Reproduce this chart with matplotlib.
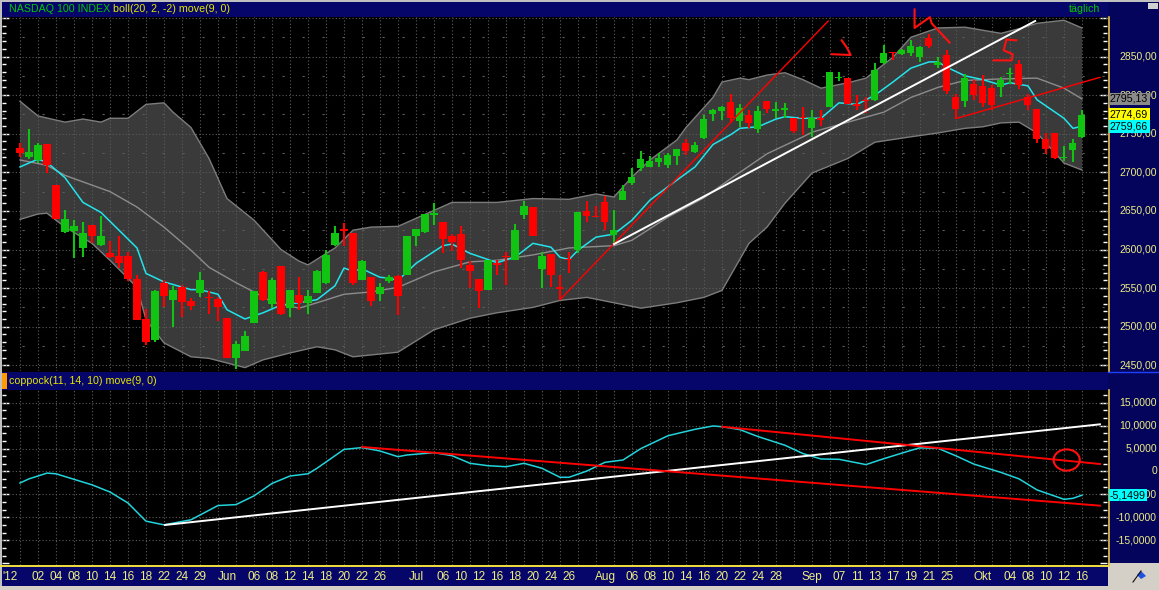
import matplotlib
matplotlib.use("Agg")
import matplotlib.pyplot as plt
import matplotlib.transforms as mtransforms
from matplotlib.patches import Rectangle, Ellipse, Polygon
from matplotlib.ticker import MultipleLocator
import numpy as np
import pandas as pd

plt.rcParams['font.family'] = ['Liberation Sans', 'DejaVu Sans']

# ---- trading days shown (30 Apr 2012 .. 16 Oct 2012) ----
holidays = ['2012-05-28', '2012-07-04', '2012-09-03']
days = pd.bdate_range('2012-04-30', '2012-10-16').drop(pd.to_datetime(holidays))

# ---- NASDAQ 100 daily candles ----
opens = [2731, 2720, 2716, 2737, 2683, 2623, 2624, 2602, 2632, 2606,
         2595, 2591, 2591, 2562, 2510, 2483, 2556, 2535, 2552, 2533,
         2544, 2539, 2536, 2511, 2460, 2468, 2505, 2571, 2529, 2579,
         2524, 2541, 2531, 2544, 2556, 2606, 2626, 2621, 2561, 2564,
         2542, 2559, 2566, 2567, 2617, 2623, 2645, 2636, 2617, 2620,
         2580, 2562, 2547, 2582, 2592, 2587, 2645, 2655, 2575, 2594,
         2552, 2588, 2600, 2650, 2644, 2661, 2619, 2664, 2686, 2706,
         2707, 2713, 2710, 2721, 2738, 2726, 2744, 2776, 2779, 2791,
         2766, 2774, 2756, 2793, 2780, 2781, 2771, 2772, 2757, 2770,
         2785, 2822, 2822, 2788, 2794, 2794, 2841, 2856, 2853, 2854,
         2850, 2874, 2839, 2852, 2798, 2792, 2815, 2812, 2809, 2810,
         2827, 2840, 2798, 2782, 2743, 2751, 2718, 2729, 2746]
highs = [2738, 2756, 2738, 2737, 2683, 2651, 2638, 2635, 2632, 2643,
         2611, 2618, 2597, 2567, 2523, 2548, 2561, 2553, 2554, 2537,
         2571, 2546, 2539, 2511, 2482, 2494, 2546, 2572, 2563, 2579,
         2547, 2564, 2547, 2574, 2600, 2631, 2634, 2621, 2587, 2564,
         2557, 2567, 2567, 2617, 2626, 2646, 2660, 2636, 2620, 2631,
         2585, 2562, 2587, 2586, 2597, 2633, 2663, 2655, 2597, 2594,
         2567, 2597, 2648, 2663, 2657, 2669, 2651, 2684, 2705, 2728,
         2721, 2725, 2725, 2730, 2743, 2739, 2774, 2782, 2786, 2802,
         2789, 2781, 2786, 2793, 2791, 2790, 2771, 2784, 2781, 2781,
         2830, 2830, 2822, 2800, 2798, 2841, 2865, 2856, 2860, 2871,
         2864, 2879, 2849, 2858, 2802, 2827, 2820, 2826, 2813, 2823,
         2835, 2846, 2802, 2782, 2751, 2751, 2734, 2743, 2781]
lows = [2720, 2717, 2712, 2699, 2639, 2622, 2589, 2590, 2608, 2605,
        2589, 2576, 2559, 2509, 2476, 2480, 2525, 2500, 2513, 2521,
        2538, 2516, 2508, 2460, 2445, 2468, 2505, 2533, 2524, 2515,
        2513, 2522, 2516, 2543, 2555, 2605, 2604, 2554, 2560, 2527,
        2533, 2557, 2515, 2567, 2605, 2622, 2632, 2596, 2598, 2576,
        2550, 2524, 2547, 2567, 2554, 2586, 2640, 2618, 2550, 2552,
        2535, 2569, 2595, 2635, 2642, 2625, 2608, 2664, 2684, 2702,
        2707, 2707, 2705, 2710, 2722, 2725, 2743, 2767, 2768, 2764,
        2759, 2757, 2751, 2777, 2771, 2770, 2751, 2748, 2746, 2760,
        2785, 2818, 2789, 2781, 2777, 2793, 2840, 2846, 2852, 2851,
        2843, 2861, 2835, 2802, 2769, 2785, 2794, 2785, 2781, 2798,
        2815, 2808, 2781, 2738, 2724, 2717, 2715, 2714, 2744]
closes = [2725, 2726, 2735, 2709, 2639, 2640, 2631, 2621, 2617, 2617,
          2590, 2582, 2562, 2509, 2480, 2546, 2540, 2548, 2532, 2527,
          2560, 2537, 2525, 2460, 2478, 2488, 2546, 2535, 2561, 2516,
          2547, 2531, 2540, 2572, 2593, 2621, 2624, 2556, 2585, 2533,
          2551, 2565, 2540, 2617, 2626, 2646, 2647, 2613, 2610, 2587,
          2572, 2546, 2587, 2580, 2590, 2625, 2657, 2618, 2591, 2567,
          2549, 2586, 2648, 2643, 2642, 2636, 2625, 2676, 2694, 2717,
          2715, 2719, 2722, 2730, 2728, 2736, 2769, 2781, 2785, 2770,
          2783, 2764, 2779, 2782, 2782, 2783, 2753, 2770, 2771, 2768,
          2830, 2824, 2789, 2786, 2792, 2832, 2855, 2854, 2858, 2863,
          2862, 2863, 2843, 2805, 2782, 2822, 2800, 2790, 2787, 2820,
          2829, 2813, 2787, 2743, 2730, 2718, 2720, 2738, 2774.69]

# Bollinger band (20, 2) and 9-day average (day index, price)
upper_days = [0, 2, 5, 7, 9, 10, 12, 14, 16, 17, 19, 21, 23, 26, 29, 31, 32, 35, 37, 39,
              42, 48, 53, 57, 61, 64, 66, 68, 70, 73, 74, 77, 78, 80, 81, 83, 85, 87, 89, 92,
              94, 97, 99, 102, 105, 109, 111, 113, 116, 118]
upper_vals = [2792, 2773, 2765, 2769, 2765, 2770, 2770, 2788, 2790, 2778, 2758, 2718, 2666, 2638, 2600, 2585, 2580, 2602, 2625, 2629,
              2630, 2661, 2661, 2666, 2665, 2672, 2668, 2694, 2716, 2742, 2758, 2797, 2817, 2822, 2820, 2826, 2829, 2820, 2809, 2816,
              2822, 2849, 2875, 2887, 2888, 2880, 2886, 2893, 2897, 2887]
lower_days = [0, 2, 3, 5, 8, 10, 13, 14, 16, 19, 21, 23, 25, 27, 30, 33, 35, 37, 42, 46,
              50, 53, 57, 60, 63, 66, 69, 73, 76, 78, 81, 83, 85, 87, 88, 92, 95, 99, 102, 105,
              107, 109, 111, 113, 115, 116, 118]
lower_vals = [2639, 2646, 2647, 2629, 2608, 2586, 2551, 2509, 2479, 2461, 2459, 2453, 2447, 2457, 2466, 2474, 2470, 2461, 2467, 2496,
              2511, 2518, 2525, 2534, 2538, 2531, 2524, 2531, 2538, 2547, 2608, 2629, 2660, 2686, 2699, 2718, 2739, 2746, 2751, 2757,
              2759, 2764, 2765, 2751, 2725, 2712, 2703]
mid_days = [0, 3, 5, 10, 13, 16, 19, 21, 24, 26, 28, 31, 33, 36, 39, 42, 46, 50, 53, 57,
            61, 66, 68, 72, 76, 79, 83, 87, 88, 92, 96, 99, 102, 105, 109, 113, 116, 118]
mid_vals = [2716, 2709, 2696, 2675, 2655, 2629, 2599, 2577, 2557, 2545, 2532, 2524, 2531, 2542, 2545, 2551, 2571, 2584, 2586, 2593,
            2602, 2605, 2612, 2642, 2667, 2692, 2724, 2746, 2752, 2765, 2778, 2797, 2810, 2819, 2821, 2822, 2809, 2795.13]
ma_days = [0, 2, 3, 5, 7, 9, 11, 13, 14, 16, 19, 20, 22, 23, 25, 27, 29, 31, 33, 35,
           36, 37, 38, 40, 41, 42, 44, 47, 48, 50, 52, 53, 55, 57, 59, 60, 61, 62, 64, 66,
           68, 70, 73, 75, 77, 79, 80, 82, 84, 85, 87, 89, 91, 93, 95, 97, 99, 101, 102, 103,
           105, 107, 109, 110, 112, 113, 116, 117, 118]
ma_vals = [2707, 2717, 2713, 2693, 2661, 2648, 2625, 2602, 2569, 2558, 2548, 2548, 2542, 2522, 2510, 2518, 2528, 2531, 2535, 2553,
           2576, 2572, 2575, 2564, 2563, 2560, 2582, 2605, 2607, 2595, 2587, 2583, 2590, 2608, 2603, 2590, 2587, 2599, 2616, 2620,
           2638, 2664, 2690, 2707, 2736, 2749, 2757, 2759, 2769, 2772, 2770, 2770, 2790, 2788, 2800, 2817, 2835, 2843, 2843, 2836,
           2825, 2820, 2813, 2816, 2812, 2794, 2770, 2757, 2759.66]

# Coppock (11, 14, 10)
cop_days = [0, 1, 3, 4, 6, 8, 10, 12, 14, 16, 19, 22, 24, 26, 28, 30, 32, 33, 36, 38,
            40, 42, 43, 46, 48, 50, 52, 54, 56, 58, 60, 61, 63, 65, 67, 69, 72, 75, 77, 78,
            80, 82, 85, 87, 89, 91, 94, 96, 99, 100, 102, 104, 106, 109, 111, 113, 116, 117, 118]
cop_vals = [-2.5, -1.6, -0.35, -0.5, -1.7, -2.9, -4.46, -6.85, -10.8, -11.6, -10.5, -7.4, -7.2, -5.3, -2.6, -0.98, -0.5, 0.7, 4.8, 5.2,
            4.46, 3.22, 3.59, 4.09, 3.44, 1.78, 1.26, 1.04, 1.78, 0.7, -1.26, -1.26, 0.11, 2.0, 2.5, 5.0, 7.78, 9.17, 9.9, 9.74,
            9.1, 7.6, 5.7, 3.9, 2.72, 2.65, 1.5, 2.8, 4.6, 5.15, 5.04, 3.4, 1.6, -0.2, -1.6, -4.0, -6.05, -5.83, -5.1499]

# hand-drawn trend lines and marks (day index, value)
red_trend_days, red_trend_prices = [60, 89.8], [2535, 2896]
white_trend_days, white_trend_prices = [66, 112.8], [2607, 2896]
wedge_days, wedge_prices = [104.1, 120], [2770, 2823]
mark_k_days, mark_k_prices = [99.4, 99.4, 101.1, 101.3, 103.3], [2911, 2887, 2901, 2893, 2868]
mark_paren_days, mark_paren_prices = [91.3, 91.9, 92.3, 90.2], [2871, 2861, 2852, 2853]
mark_s_days, mark_s_prices = [110.7, 109.6, 109.3, 110.3, 110.2, 108.2], [2871, 2872, 2858, 2853, 2845, 2845]
cop_white_days, cop_white_vals = [16.1, 120], [-11.63, 10.26]
cop_red1_days, cop_red1_vals = [78, 120], [9.74, 1.63]
cop_red2_days, cop_red2_vals = [38, 120], [5.33, -7.43]
circle_day, circle_val = 116.3, 2.5

# date axis labels
tick_dates = ['2012-05-02', '2012-05-04', '2012-05-08', '2012-05-10', '2012-05-14', '2012-05-16',
              '2012-05-18', '2012-05-22', '2012-05-24', '2012-05-29', '2012-06-01', '2012-06-06',
              '2012-06-08', '2012-06-12', '2012-06-14', '2012-06-18', '2012-06-20', '2012-06-22',
              '2012-06-26', '2012-07-02', '2012-07-06', '2012-07-10', '2012-07-12', '2012-07-16',
              '2012-07-18', '2012-07-20', '2012-07-24', '2012-07-26', '2012-08-01', '2012-08-06',
              '2012-08-08', '2012-08-10', '2012-08-14', '2012-08-16', '2012-08-20', '2012-08-22',
              '2012-08-24', '2012-08-28', '2012-09-04', '2012-09-07', '2012-09-11', '2012-09-13',
              '2012-09-17', '2012-09-19', '2012-09-21', '2012-09-25', '2012-10-01', '2012-10-04',
              '2012-10-08', '2012-10-10', '2012-10-12', '2012-10-16']
tick_labels = ['02', '04', '08', '10', '14', '16', '18', '22', '24', '29', 'Jun', '06', '08', '12', '14',
               '18', '20', '22', '26', 'Jul', '06', '10', '12', '16', '18', '20', '24', '26', 'Aug', '06',
               '08', '10', '14', '16', '20', '22', '24', '28', 'Sep', '07', '11', '13', '17', '19', '21',
               '25', 'Okt', '04', '08', '10', '12', '16']

# ---- layout (pixel boxes) ----
W, H = 1159, 590
NAVY = '#06066a'
GRID = '#5a5e56'
YEL = '#eeee80'


def box(x0, y0, x1, y1):
    return [x0 / W, 1 - y1 / H, (x1 - x0) / W, (y1 - y0) / H]


fig = plt.figure(figsize=(W / 100, H / 100), dpi=100, facecolor='black')
bg = fig.add_axes([0, 0, 1, 1])
bg.set_xlim(0, W)
bg.set_ylim(H, 0)
bg.axis('off')
for (x, y, w, h, col) in [(1108, 0, 51, 565, '#04045c'), (0, 0, 1108, 17, NAVY), (0, 372, 1108, 18, NAVY),
                          (0, 567, 1108, 20, NAVY), (0, 586, W, 4, '#d4d0c8'), (1108, 563, 51, 27, '#d4d0c8'),
                          (0, 0, W, 2, '#c0c0c0'), (0, 0, 2, 586, '#c0c0c0'), (2, 373, 5, 16, '#ff9a00'),
                          (1148, 3, 10, 6, '#d0d0d0')]:
    bg.add_patch(Rectangle((x, y), w, h, color=col, lw=0))
bg.plot([1108.5, 1108.5], [17, 372], color='#e8c040', lw=1.2)
bg.plot([1108.5, 1108.5], [390, 566], color='#e8c040', lw=1.2)
bg.plot([1108, 1159], [372, 372], color='#2040ff', lw=1)
bg.plot([0, 1108], [566, 566], color='#f0e040', lw=1.4)
# little flag icon in the corner
bg.plot([1133, 1141], [582, 571], color='#101010', lw=0.8)
bg.add_patch(Polygon([[1137, 575], [1141, 571], [1146, 576], [1141, 579]], closed=True, color='#2050e0', lw=0))

t1 = bg.text(9, 9, 'NASDAQ 100 INDEX', color='#00c800', fontsize=7.7, va='center')
bg.annotate('boll(20, 2, -2) move(9, 0)', xy=(1, 0.5), xycoords=t1, xytext=(2, 0),
            textcoords='offset points', va='center', color='#e6e600', fontsize=7.7)
bg.text(1100, 9, 'täglich', color='#00c800', fontsize=7.7, va='center', ha='right')
bg.text(9, 381, 'coppock(11, 14, 10) move(9, 0)', color='#e6e600', fontsize=7.7, va='center')

ax1 = fig.add_axes(box(2, 17, 1107, 371))
ax2 = fig.add_axes(box(2, 390, 1107, 565))
xlim = (-2.0, 120.78)

for ax in (ax1, ax2):
    ax.set_facecolor('black')
    ax.set_xlim(*xlim)
    for s in ax.spines.values():
        s.set_visible(False)
    ax.set_xticks([])
    for d in range(0, 120, 2):
        ax.axvline(d, color=GRID, lw=0.8, ls=(0, (1, 2)), zorder=2)
    ax.tick_params(axis='y', which='both', direction='in', colors='white', left=True, right=True,
                   labelleft=False, labelright=False, width=1)
    ax.tick_params(axis='y', which='major', length=5)
    ax.tick_params(axis='y', which='minor', length=3)

# ---- price panel ----
ax1.set_ylim(2442.6, 2901.2)
ax1.yaxis.set_major_locator(MultipleLocator(50))
ax1.yaxis.set_minor_locator(MultipleLocator(10))
for p in range(2450, 2901, 50):
    ax1.axhline(p, color=GRID, lw=0.8, ls=(0, (1, 2)), zorder=2)
for p in range(2475, 2901, 50):
    ax1.axhline(p, color=GRID, lw=0.8, ls=(0, (2, 16)), zorder=2)

band_x = upper_days + lower_days[::-1]
band_y = upper_vals + lower_vals[::-1]
ax1.fill(band_x, band_y, color='#3a3a3a', lw=0, zorder=1)
ax1.plot(upper_days, upper_vals, color='#7c7c7c', lw=1, zorder=3)
ax1.plot(lower_days, lower_vals, color='#7c7c7c', lw=1, zorder=3)
ax1.plot(mid_days, mid_vals, color='#8c8c8c', lw=1, zorder=3)
ax1.plot(ma_days, ma_vals, color='#22e4ec', lw=1.1, zorder=4)

idx = np.arange(len(closes))
o = np.array(opens, dtype=float)
c = np.array(closes, dtype=float)
cols = np.where(c >= o, '#12c412', '#ff0000')
body = np.maximum(np.abs(c - o), 1.4)
ax1.vlines(idx, lows, highs, colors=cols, lw=1.5, zorder=5)
ax1.bar(idx, body, bottom=(o + c) / 2 - body / 2, width=0.78, color=cols, lw=0, zorder=5)

ax1.plot(red_trend_days, red_trend_prices, color='red', lw=1, zorder=6)
ax1.plot(white_trend_days, white_trend_prices, color='white', lw=1.4, zorder=6)
ax1.plot(wedge_days, wedge_prices, color='red', lw=1, zorder=6)
for dx, py in [(mark_k_days, mark_k_prices), (mark_paren_days, mark_paren_prices), (mark_s_days, mark_s_prices)]:
    ax1.plot(dx, py, color='#ff1010', lw=1.5, zorder=7, clip_on=False, solid_joinstyle='round')

lab_x = (1157 - 2) / 1105
for p in range(2450, 2851, 50):
    ax1.text(lab_x, p, f'{p},00', transform=ax1.get_yaxis_transform(), ha='right', va='center',
             color=YEL, fontsize=7.5, clip_on=False)
box_x = (1110 - 2) / 1105
for val, fc in [(mid_vals[-1], '#8a8a8a'), (closes[-1], '#ffff00'), (ma_vals[-1], '#00ffff')]:
    ax1.text(box_x, val, f'{val:.2f}'.replace('.', ','), transform=ax1.get_yaxis_transform(),
             ha='left', va='center', color='black', fontsize=7.7, clip_on=False, zorder=10,
             bbox=dict(boxstyle='square,pad=0.12', fc=fc, ec='none'))

# ---- coppock panel ----
ax2.set_ylim(-20.33, 17.72)
ax2.yaxis.set_major_locator(MultipleLocator(5))
ax2.yaxis.set_minor_locator(MultipleLocator(5 / 3))
for v in range(-15, 16, 5):
    ax2.axhline(v, color=GRID, lw=0.8, ls=(0, (1, 2)), zorder=2)
ax2.plot(cop_days, cop_vals, color='#22d4dc', lw=1.1, zorder=4)
ax2.plot(cop_white_days, cop_white_vals, color='white', lw=1.4, zorder=5)
ax2.plot(cop_red1_days, cop_red1_vals, color='red', lw=1.4, zorder=5)
ax2.plot(cop_red2_days, cop_red2_vals, color='red', lw=1.4, zorder=5)
ax2.add_patch(Ellipse((circle_day, circle_val), 2.9, 4.6, fill=False, ec='#ff1010', lw=1.5, zorder=6))

for v in range(-15, 16, 5):
    txt = '0' if v == 0 else f'{v},0000'
    ax2.text(lab_x, v, txt, transform=ax2.get_yaxis_transform(), ha='right', va='center',
             color=YEL, fontsize=7.5, clip_on=False)
ax2.text(box_x, cop_vals[-1], f'{cop_vals[-1]:.4f}'.replace('.', ','), transform=ax2.get_yaxis_transform(),
         ha='left', va='center', color='black', fontsize=7.7, clip_on=False, zorder=10,
         bbox=dict(boxstyle='square,pad=0.12', fc='#00ffff', ec='none'))

# date labels under the lower panel
tick_pos = days.get_indexer(pd.to_datetime(tick_dates))
trans = mtransforms.blended_transform_factory(ax2.transData, ax2.transAxes)
label_y = -12 / 175
ax2.text(-1.1, label_y, "'12", transform=trans, ha='center', va='center', color=YEL, fontsize=8.5, clip_on=False)
for pos, lab in zip(tick_pos, tick_labels):
    ax2.text(pos, label_y, lab, transform=trans, ha='center', va='center', color=YEL, fontsize=8.5, clip_on=False)

fig.savefig('out.png', dpi=100, facecolor=fig.get_facecolor())
